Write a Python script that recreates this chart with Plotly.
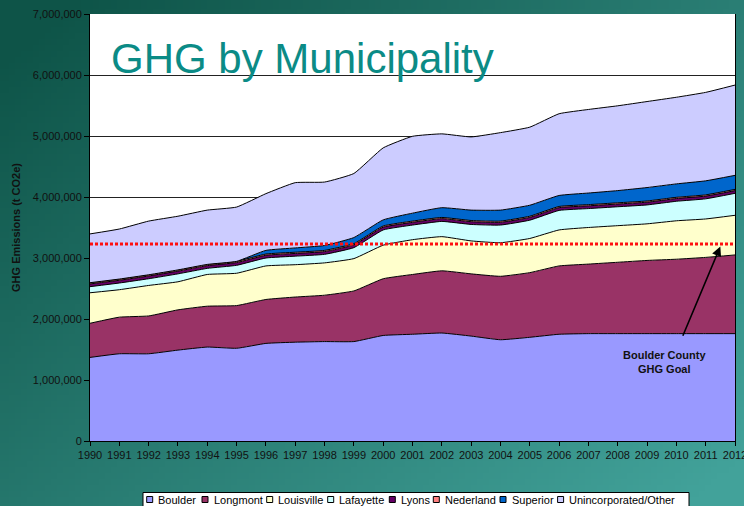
import base64, struct, zlib
import plotly.graph_objects as go

# ---------------- data ----------------
years = list(range(1990, 2013))
boulder = [1.37e6, 1.43e6, 1.43e6, 1.49e6, 1.54e6, 1.52e6, 1.60e6, 1.62e6, 1.63e6, 1.63e6, 1.73e6, 1.75e6,
           1.77e6, 1.72e6, 1.66e6, 1.70e6, 1.75e6, 1.76e6, 1.76e6, 1.76e6, 1.76e6, 1.76e6, 1.76e6]
longmont = [0.56e6, 0.60e6, 0.62e6, 0.66e6, 0.67e6, 0.70e6, 0.72e6, 0.74e6, 0.76e6, 0.83e6, 0.93e6, 0.98e6,
            1.02e6, 1.02e6, 1.04e6, 1.06e6, 1.12e6, 1.14e6, 1.17e6, 1.20e6, 1.22e6, 1.25e6, 1.29e6]
louisville = [0.50e6, 0.45e6, 0.50e6, 0.46e6, 0.52e6, 0.53e6, 0.55e6, 0.53e6, 0.53e6, 0.53e6, 0.55e6, 0.57e6,
              0.56e6, 0.54e6, 0.55e6, 0.56e6, 0.59e6, 0.60e6, 0.60e6, 0.60e6, 0.63e6, 0.63e6, 0.65e6]
lafayette = [0.10e6, 0.11e6, 0.11e6, 0.13e6, 0.10e6, 0.13e6, 0.13e6, 0.14e6, 0.14e6, 0.18e6, 0.25e6, 0.24e6,
             0.25e6, 0.27e6, 0.29e6, 0.30e6, 0.32e6, 0.31e6, 0.31e6, 0.31e6, 0.32e6, 0.33e6, 0.36e6]
lyons = [0.045e6] * 23
nederland = [0.02e6] * 23
superior = [0, 0, 0, 0, 0, 0, 0.06e6, 0.07e6, 0.08e6, 0.10e6, 0.10e6, 0.13e6,
            0.16e6, 0.17e6, 0.18e6, 0.18e6, 0.18e6, 0.19e6, 0.20e6, 0.22e6, 0.22e6, 0.23e6, 0.23e6]
unincorporated = [0.80e6, 0.82e6, 0.88e6, 0.88e6, 0.89e6, 0.89e6, 0.93e6, 1.07e6, 1.04e6, 1.05e6, 1.18e6, 1.26e6,
                  1.21e6, 1.20e6, 1.27e6, 1.28e6, 1.34e6, 1.37e6, 1.39e6, 1.41e6, 1.42e6, 1.45e6, 1.48e6]
goal = 3.23e6

series_names = ["Boulder", "Longmont", "Louisville", "Lafayette", "Lyons", "Nederland", "Superior",
                "Unincorporated/Other"]
series_values = [boulder, longmont, louisville, lafayette, lyons, nederland, superior, unincorporated]
series_colors = ["#9999FF", "#993366", "#FFFFCC", "#CCFFFF", "#660066", "#FF8080", "#0066CC", "#CCCCFF"]
y_ticks = list(range(0, 7000001, 1000000))

# ---------------- layout geometry ----------------
W, H = 744, 506
L, R, T, B = 90, 9, 14, 65
PW, PH = W - L - R, H - T - B


def pxx(x):
    return (x - L) / PW


def pxy(y):
    return (H - B - y) / PH


# background gradient image
def gradient_png(w, h):
    c0 = (14, 84, 72)
    c1 = (66, 162, 154)
    raw = bytearray()
    for j in range(h):
        raw.append(0)
        for i in range(w):
            u = i / (w - 1)
            v = j / (h - 1)
            t = min(1.0, max(0.0, 0.6 * u + 0.5 * v - 0.05))
            for k in range(3):
                raw.append(int(c0[k] + (c1[k] - c0[k]) * t))

    def chunk(tag, data):
        c = struct.pack(">I", len(data)) + tag + data
        return c + struct.pack(">I", zlib.crc32(tag + data) & 0xFFFFFFFF)

    png = b"\x89PNG\r\n\x1a\n"
    png += chunk(b"IHDR", struct.pack(">IIBBBBB", w, h, 8, 2, 0, 0, 0))
    png += chunk(b"IDAT", zlib.compress(bytes(raw), 9))
    png += chunk(b"IEND", b"")
    return "data:image/png;base64," + base64.b64encode(png).decode()


FONT = "Arial, 'Liberation Sans', sans-serif"

fig = go.Figure()
for name, vals, col in zip(series_names, series_values, series_colors):
    fig.add_trace(go.Scatter(
        x=years, y=vals, name=name, stackgroup="one", mode="lines",
        line=dict(color="black", width=1, shape="spline", smoothing=0.4),
        fillcolor=col, showlegend=False, hoverinfo="skip"))

shapes = []
annotations = []

# white plot area (above the background image)
shapes.append(dict(type="rect", xref="paper", yref="paper", x0=0, x1=1, y0=0, y1=1,
                   fillcolor="white", line=dict(width=0), layer="below"))

# goal line
shapes.append(dict(type="line", xref="x", yref="y", x0=years[0], x1=years[-1], y0=goal, y1=goal,
                   line=dict(color="#FF1010", width=3, dash="3px,2px"), layer="above"))

# title
annotations.append(dict(text="GHG by Municipality", xref="paper", yref="paper", x=pxx(109), y=pxy(58.5),
                        xanchor="left", yanchor="middle", showarrow=False,
                        font=dict(family=FONT, size=42, color="#0B8B86")))

# goal annotation
annotations.append(dict(text="", x=2011.5, y=3.19e6, xref="x", yref="y", ax=2010.2, ay=1.70e6,
                        axref="x", ayref="y", showarrow=True, arrowhead=2, arrowsize=1.2,
                        arrowwidth=1.6, arrowcolor="black"))
annotations.append(dict(text="<b>Boulder County</b><br><b>GHG Goal</b>", x=2009.6, y=1.30e6, xref="x",
                        yref="y", showarrow=False, xanchor="center", yanchor="middle",
                        font=dict(family=FONT, size=11, color="#111111")))

# manual legend
shapes.append(dict(type="rect", xref="paper", yref="paper", x0=pxx(143), x1=pxx(689), y0=pxy(512),
                   y1=pxy(492.5), fillcolor="white", line=dict(color="black", width=1), layer="above"))
leg_x = [146.7, 202, 266.7, 327.7, 389.3, 433.3, 500, 557.6]
for name, col, lx in zip(series_names, series_colors, leg_x):
    shapes.append(dict(type="rect", xref="paper", yref="paper", x0=pxx(lx), x1=pxx(lx + 6),
                       y0=pxy(502.5), y1=pxy(496.5), fillcolor=col, line=dict(color="black", width=1),
                       layer="above"))
    annotations.append(dict(text=name, xref="paper", yref="paper", x=pxx(lx + 9.6), y=pxy(500),
                            xanchor="left", yanchor="middle", showarrow=False,
                            font=dict(family=FONT, size=11, color="black")))

fig.update_layout(
    width=W, height=H,
    margin=dict(l=L, r=R, t=T, b=B, autoexpand=False),
    paper_bgcolor="#1D6F64",
    plot_bgcolor="white",
    font=dict(family=FONT, color="#111111"),
    showlegend=False,
    shapes=shapes,
    annotations=annotations,
    images=[dict(source=gradient_png(124, 84), xref="paper", yref="paper",
                 x=pxx(0), y=pxy(0), sizex=W / PW, sizey=H / PH, sizing="stretch",
                 xanchor="left", yanchor="top", layer="below")],
    xaxis=dict(range=[years[0], years[-1]], tickmode="array", tickvals=years,
               ticktext=[str(y) for y in years], ticks="outside", ticklen=4, tickcolor="black",
               showline=True, linecolor="black", linewidth=1, showgrid=False, zeroline=False,
               automargin=False, ticklabeloverflow="allow",
               tickfont=dict(family=FONT, size=11, color="#111111")),
    yaxis=dict(range=[0, 7000000], tickmode="array", tickvals=y_ticks,
               ticktext=[f"{v:,}" for v in y_ticks], ticks="outside", ticklen=5, tickcolor="black",
               showline=True, linecolor="black", linewidth=1, mirror=True,
               showgrid=True, gridcolor="#222222", gridwidth=1, zeroline=False,
               automargin=False, ticklabeloverflow="allow",
               tickfont=dict(family=FONT, size=11, color="#111111"),
               title=dict(text="<b>GHG Emissions (t CO2e)</b>", standoff=10,
                          font=dict(family=FONT, size=11, color="#111111"))),
)

fig.write_html("out.html", config={"displayModeBar": False},
               post_script="document.body.style.margin='0';document.body.style.overflow='hidden';")
